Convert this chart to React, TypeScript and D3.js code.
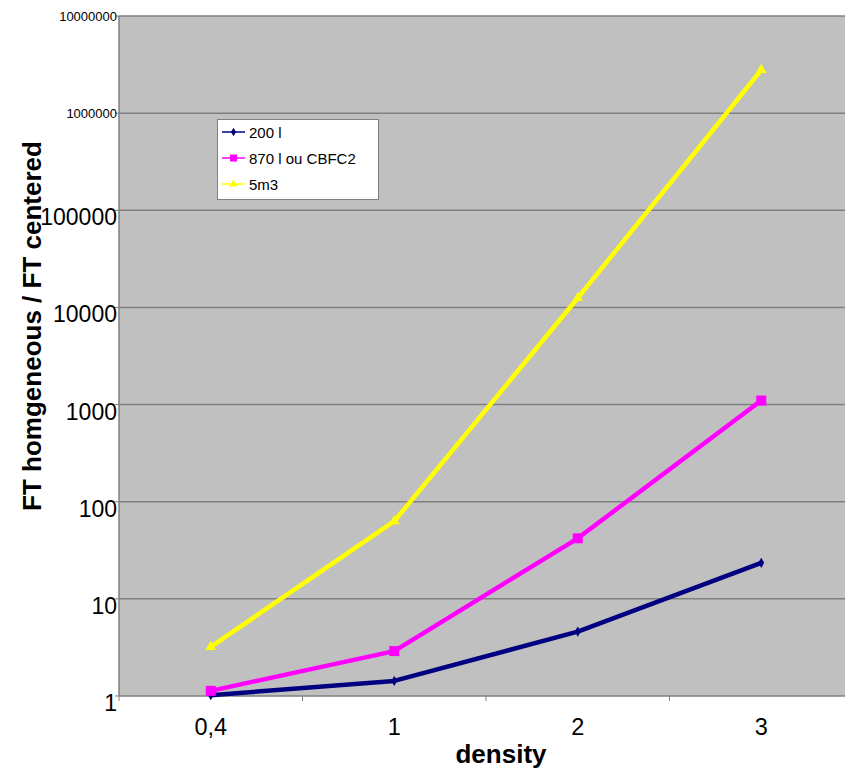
import { useRef, useEffect } from 'react';
import * as d3 from 'd3';

const categories = ['0,4', '1', '2', '3'];
const series200 = [1.02, 1.43, 4.6, 23.5];
const series870 = [1.13, 2.9, 42, 1100];
const series5m3 = [3.2, 63, 12500, 2780000];
const yTicks = [1, 10, 100, 1000, 10000, 100000, 1000000, 10000000];
const seriesNames = ['200 l', '870 l ou CBFC2', '5m3'];
const seriesColors = ['#000080', '#FF00FF', '#FFFF00'];

const W = 845;
const H = 768;

const Chart = () => {
  const svgRef = useRef<SVGSVGElement>(null);

  useEffect(() => {
    const svg = d3.select(svgRef.current);
    svg.selectAll('*').remove();

    const left = 119, right = 853, top = 16, bottom = 696;

    const x = d3.scaleBand().domain(categories).range([left, right]).padding(0);
    const y = d3.scaleLog().domain([1, 10000000]).range([bottom, top]);
    const cx = (c: string) => (x(c) as number) + x.bandwidth() / 2;

    // plot area
    svg.append('rect')
      .attr('x', left).attr('y', top)
      .attr('width', right - left).attr('height', bottom - top)
      .attr('fill', '#C0C0C0');

    // gridlines
    svg.append('g').selectAll('line')
      .data(yTicks.slice(1))
      .enter().append('line')
      .attr('x1', left).attr('x2', right)
      .attr('y1', d => y(d)).attr('y2', d => y(d))
      .attr('stroke', '#808080').attr('stroke-width', 1.5);

    // left axis
    svg.append('line')
      .attr('x1', left).attr('x2', left).attr('y1', top).attr('y2', bottom)
      .attr('stroke', '#808080').attr('stroke-width', 1.5);
    svg.append('g').selectAll('line')
      .data(yTicks)
      .enter().append('line')
      .attr('x1', left - 4).attr('x2', left)
      .attr('y1', d => y(d)).attr('y2', d => y(d))
      .attr('stroke', '#808080').attr('stroke-width', 1);

    // bottom axis
    svg.append('line')
      .attr('x1', left).attr('x2', right).attr('y1', bottom).attr('y2', bottom)
      .attr('stroke', '#808080').attr('stroke-width', 1.5);
    const bounds = categories.map(c => x(c) as number).concat([right]);
    svg.append('g').selectAll('line')
      .data(bounds)
      .enter().append('line')
      .attr('x1', d => d).attr('x2', d => d)
      .attr('y1', bottom).attr('y2', bottom + 5)
      .attr('stroke', '#808080').attr('stroke-width', 1);

    // y tick labels
    svg.append('g').selectAll('text')
      .data(yTicks)
      .enter().append('text')
      .attr('x', 117)
      .attr('y', d => y(d) + (d >= 1000000 ? 5 : 15))
      .attr('text-anchor', 'end')
      .attr('font-family', 'Liberation Sans, Arial, sans-serif')
      .attr('font-size', d => (d >= 1000000 ? 13 : 23))
      .attr('fill', '#000')
      .text(d => String(d));

    // x tick labels
    svg.append('g').selectAll('text')
      .data(categories)
      .enter().append('text')
      .attr('x', d => cx(d))
      .attr('y', 735)
      .attr('text-anchor', 'middle')
      .attr('font-family', 'Liberation Sans, Arial, sans-serif')
      .attr('font-size', 23.5)
      .attr('fill', '#000')
      .text(d => d);

    // axis titles
    svg.append('text')
      .attr('x', 501).attr('y', 763)
      .attr('text-anchor', 'middle')
      .attr('font-family', 'Liberation Sans, Arial, sans-serif')
      .attr('font-size', 26).attr('font-weight', 'bold')
      .text('density');

    svg.append('text')
      .attr('transform', 'translate(41,326) rotate(-90)')
      .attr('text-anchor', 'middle')
      .attr('font-family', 'Liberation Sans, Arial, sans-serif')
      .attr('font-size', 26).attr('font-weight', 'bold')
      .text('FT homgeneous / FT centered');

    // series
    const allSeries = [series200, series870, series5m3];
    const line = d3.line<number>()
      .x((_, i) => cx(categories[i]))
      .y(d => y(d));

    const marker = (g: d3.Selection<SVGGElement, unknown, null, undefined>, k: number, px: number, py: number) => {
      if (k === 0) {
        g.append('path')
          .attr('d', d3.symbol().type(d3.symbolDiamond).size(30)())
          .attr('transform', `translate(${px},${py})`)
          .attr('fill', seriesColors[k]);
      } else if (k === 1) {
        g.append('rect')
          .attr('x', px - 5).attr('y', py - 5).attr('width', 10).attr('height', 10)
          .attr('fill', seriesColors[k]);
      } else {
        g.append('path')
          .attr('d', d3.symbol().type(d3.symbolTriangle).size(50)())
          .attr('transform', `translate(${px},${py})`)
          .attr('fill', seriesColors[k]);
      }
    };

    allSeries.forEach((s, k) => {
      const g = svg.append('g');
      g.append('path')
        .datum(s)
        .attr('d', line)
        .attr('fill', 'none')
        .attr('stroke', seriesColors[k])
        .attr('stroke-width', 4.5)
        .attr('stroke-linejoin', 'round');
      s.forEach((v, i) => marker(g, k, cx(categories[i]), y(v)));
    });

    // legend
    const lg = svg.append('g');
    lg.append('rect')
      .attr('x', 217.5).attr('y', 119.5).attr('width', 161).attr('height', 80)
      .attr('fill', '#fff').attr('stroke', '#808080').attr('stroke-width', 1);
    seriesNames.forEach((name, k) => {
      const ly = 132 + k * 26;
      lg.append('line')
        .attr('x1', 222).attr('x2', 245).attr('y1', ly).attr('y2', ly)
        .attr('stroke', seriesColors[k]).attr('stroke-width', 1.5);
      const mg = lg.append('g');
      if (k === 0) {
        mg.append('path').attr('d', d3.symbol().type(d3.symbolDiamond).size(22)())
          .attr('transform', `translate(233.5,${ly})`).attr('fill', seriesColors[k]);
      } else if (k === 1) {
        mg.append('rect').attr('x', 230).attr('y', ly - 3.5).attr('width', 7).attr('height', 7)
          .attr('fill', seriesColors[k]);
      } else {
        mg.append('path').attr('d', d3.symbol().type(d3.symbolTriangle).size(30)())
          .attr('transform', `translate(233.5,${ly})`).attr('fill', seriesColors[k]);
      }
      lg.append('text')
        .attr('x', 249).attr('y', ly + 5.5)
        .attr('font-family', 'Liberation Sans, Arial, sans-serif')
        .attr('font-size', 15)
        .attr('fill', '#000')
        .text(name);
    });
  }, []);

  return <svg ref={svgRef} width={W} height={H} style={{ display: 'block', position: 'absolute', left: 0, top: 0 }}></svg>;
};

export default function App() {
  return <Chart />;
}
